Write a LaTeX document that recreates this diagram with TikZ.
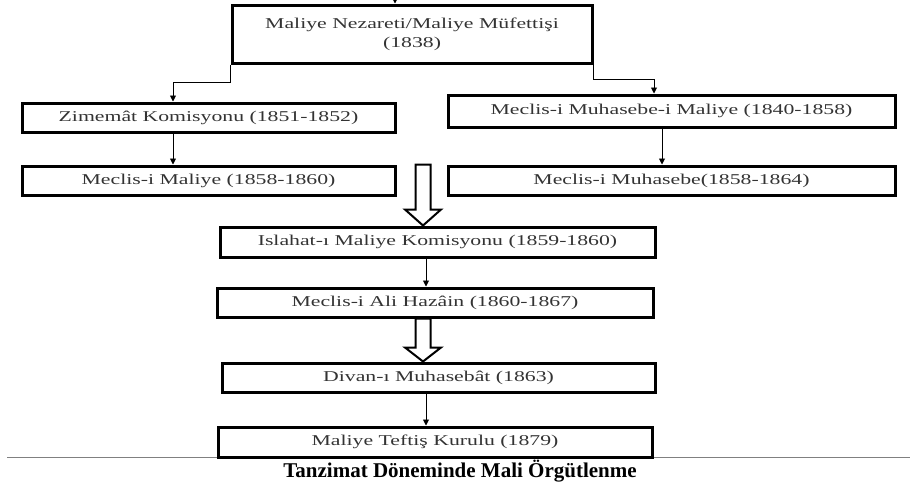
\documentclass[tikz,border=0pt]{standalone}
\usepackage{fontspec}
\setmainfont{Liberation Serif}
\newfontfamily\boxfont[FakeStretch=1.45]{Liberation Serif}
\usepackage{tikz}
\usetikzlibrary{arrows.meta}
\usetikzlibrary{calc}

\tikzset{
  box/.style={draw, line width=3pt, minimum height=29pt, inner sep=0pt,
    font=\boxfont\fontsize{15}{17}\selectfont, text=black!80},
  conn/.style={line width=0.9pt, -{Triangle[length=6pt,width=6pt]}},
  hollow/.style={draw, line width=2pt, fill=white, line join=miter},
}

\begin{document}
\begin{tikzpicture}[x=1pt, y=-1pt]

    \useasboundingbox (0,0) rectangle (910,485);

    % Ministry at the top
    \node[box, minimum width=360pt, minimum height=58pt, align=center] (nezaret) at (412,34)
        {Maliye Nezareti/Maliye Müfettişi\\[2pt](1838)};
    \coordinate (in) at (395,-3);
    \draw[conn] (in) -- (in |- nezaret.north);

    % Left branch
    \node[box, minimum width=373pt] (zimemat) at (208.5,117.5) {Zimemât Komisyonu (1851-1852)};
    \node[box, minimum width=373pt] (mmaliye) at (208.5,180.5) {Meclis-i Maliye (1858-1860)};

    % Right branch
    \node[box, minimum width=447pt, minimum height=32pt] (mmmaliye) at (671.5,111) {Meclis-i Muhasebe-i Maliye (1840-1858)};
    \node[box, minimum width=447pt] (mmuhasebe) at (671.5,180.5) {Meclis-i Muhasebe(1858-1864)};

    % Middle column
    \node[box, minimum width=435pt, minimum height=30pt] (islahat) at (437.5,242) {Islahat-ı Maliye Komisyonu (1859-1860)};
    \node[box, minimum width=436pt] (hazain) at (435,302.5) {Meclis-i Ali Hazâin (1860-1867)};
    \node[box, minimum width=433pt] (divan) at (438.5,377.5) {Divan-ı Muhasebât (1863)};

    % Rule under the figure
    \draw[black!50, line width=1pt] (7,457) -- (910,457);
    \node[box, minimum width=434pt, minimum height=30pt] (teftis) at (435,442) {Maliye Teftiş Kurulu (1879)};

    % Thin connectors
    \draw[conn] (nezaret.south west) -- ++(0,18) -| ([xshift=-35.5pt]zimemat.north);
    \draw[conn] (nezaret.south east) -- ++(0,15) -| ([xshift=-17.5pt]mmmaliye.north);
    \draw[conn] ([xshift=-35.5pt]zimemat.south) -- ([xshift=-35.5pt]mmaliye.north);
    \draw[conn] ([xshift=-9.5pt]mmmaliye.south) -- ([xshift=-9.5pt]mmuhasebe.north);
    \draw[conn] ([xshift=-11.5pt]islahat.south) -- ([xshift=-9pt]hazain.north);
    \draw[conn] ([xshift=-12.5pt]divan.south) -- ([xshift=-9pt]teftis.north);

    % Hollow arrows
    \coordinate (tip1) at ([xshift=-14.5pt]islahat.north);
    \coordinate (top1) at (mmaliye.north -| tip1);
    \draw[hollow] ($(top1)+(-7.5,0)$) -- ($(tip1)+(-7.5,-16)$) -- ($(tip1)+(-18,-16)$) -- (tip1)
        -- ($(tip1)+(18,-16)$) -- ($(tip1)+(7.5,-16)$) -- ($(top1)+(7.5,0)$) -- cycle;

    \coordinate (tip2) at ([xshift=-15.5pt]divan.north);
    \coordinate (top2) at (hazain.south -| tip2);
    \draw[hollow] ($(top2)+(-7.5,0)$) -- ($(tip2)+(-7.5,-14)$) -- ($(tip2)+(-18,-14)$) -- (tip2)
        -- ($(tip2)+(18,-14)$) -- ($(tip2)+(7.5,-14)$) -- ($(top2)+(7.5,0)$) -- cycle;

    % Caption
    \node[anchor=base, font=\bfseries\fontsize{21}{24}\selectfont] (caption) at (460,477)
        {Tanzimat Döneminde Mali Örgütlenme};

\end{tikzpicture}
\end{document}
